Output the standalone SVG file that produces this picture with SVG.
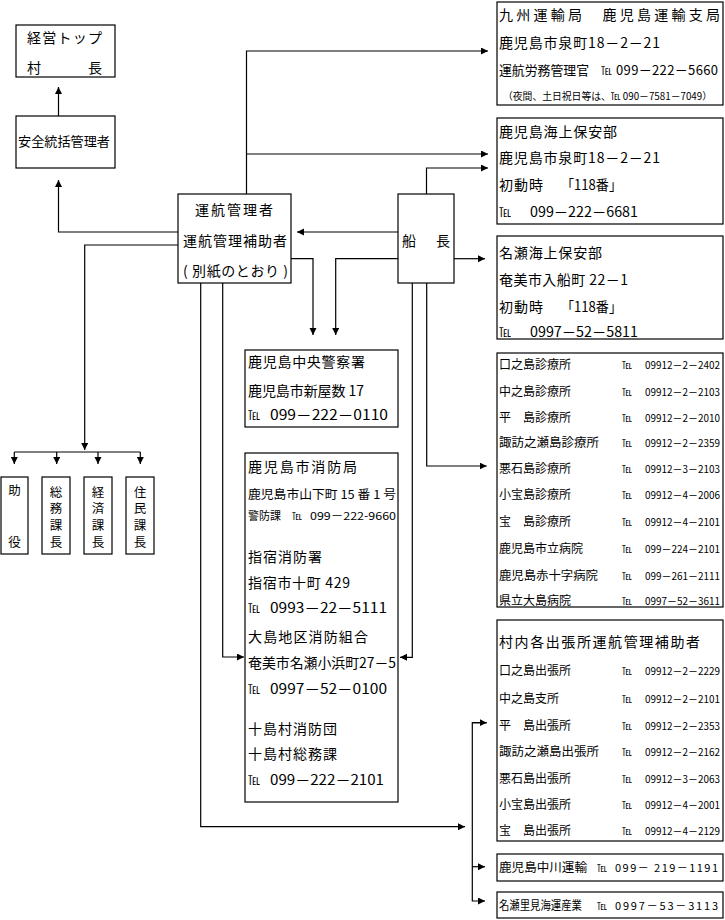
<svg xmlns="http://www.w3.org/2000/svg" width="725" height="920" viewBox="0 0 725 920">
<style>
text{font-family:"Noto Sans CJK JP","Noto Sans",sans-serif;fill:#000}
.s14{font-size:14px}.s13{font-size:13px}.s12{font-size:12px}.s11{font-size:11px}.s10{font-size:10px}
.n{font-size:10.5px}
.box{fill:#fff;stroke:#000;stroke-width:1.2}
.c{fill:none;stroke:#000;stroke-width:1.2}
.m{text-anchor:middle;font-size:12.5px}
</style>
<defs>
<marker id="ah" markerWidth="8" markerHeight="8" refX="7" refY="3.5" orient="auto" markerUnits="userSpaceOnUse"><path d="M0,0 L7,3.5 L0,7 z" fill="#000"/></marker>
</defs>
<rect width="725" height="920" fill="#fff"/>
<g id="connectors">
<path class="c" d="M58.5,116 V87" marker-end="url(#ah)"/>
<path class="c" d="M178,232 H58.5 V180" marker-end="url(#ah)"/>
<path class="c" d="M178,245 H84.7 V450" marker-end="url(#ah)"/>
<path class="c" d="M14.3,452 H140.3"/>
<path class="c" d="M14.3,452 V464" marker-end="url(#ah)"/>
<path class="c" d="M56.7,452 V464" marker-end="url(#ah)"/>
<path class="c" d="M98,452 V464" marker-end="url(#ah)"/>
<path class="c" d="M140.3,452 V464" marker-end="url(#ah)"/>
<path class="c" d="M246.5,194 V51 H488" marker-end="url(#ah)"/>
<path class="c" d="M246.5,154 H488" marker-end="url(#ah)"/>
<path class="c" d="M426.5,194 V168 H488" marker-end="url(#ah)"/>
<path class="c" d="M398,232 H297" marker-end="url(#ah)"/>
<path class="c" d="M454,258.7 H485" marker-end="url(#ah)"/>
<path class="c" d="M291,258.7 H313 V335" marker-end="url(#ah)"/>
<path class="c" d="M398,258.7 H335.7 V335" marker-end="url(#ah)"/>
<path class="c" d="M200.7,283 V826.7 H465" marker-end="url(#ah)"/>
<path class="c" d="M222.7,283 V657 H244" marker-end="url(#ah)"/>
<path class="c" d="M412.3,283 V657.3 H400" marker-end="url(#ah)"/>
<path class="c" d="M426.7,283 V466 H486.7" marker-end="url(#ah)"/>
<path class="c" d="M486.7,722.7 H472.3 V901 H485" marker-end="url(#ah)"/>
<path class="c" d="M472.3,722.7 H486.7" marker-end="url(#ah)"/>
<path class="c" d="M472.3,866.7 H485" marker-end="url(#ah)"/>
</g>
<g id="top">
<rect class="box" x="16" y="25" width="99" height="52"/>
<text class="s14" x="27" y="42.5" textLength="75" lengthAdjust="spacing">経営トップ</text>
<text class="s14" x="27" y="73">村</text><text class="s14" x="88" y="73">長</text>
</g>
<g id="safety">
<rect class="box" x="16" y="116" width="99" height="52"/>
<text class="s13" x="18" y="146" textLength="92" lengthAdjust="spacingAndGlyphs">安全統括管理者</text>
</g>
<g id="manager">
<rect class="box" x="178" y="194" width="113" height="89"/>
<text class="s14" x="195" y="214.5" textLength="78" lengthAdjust="spacing">運航管理者</text>
<text class="s14" x="183" y="246" textLength="104" lengthAdjust="spacing">運航管理補助者</text>
<text class="s14" x="183" y="276" textLength="105" lengthAdjust="spacing">( 別紙のとおり )</text>
</g>
<g id="captain">
<rect class="box" x="398" y="194" width="56" height="89"/>
<text class="s14" x="402" y="246">船</text><text class="s14" x="436" y="246">長</text>
</g>
<g id="staff">
<rect class="box" x="1" y="477" width="27" height="77"/>
<text class="m" x="14.5" y="495">助</text><text class="m" x="14.5" y="546.7">役</text>
<rect class="box" x="42" y="477" width="28" height="77"/>
<text class="m" x="56" y="496.7">総</text><text class="m" x="56" y="513">務</text><text class="m" x="56" y="530">課</text><text class="m" x="56" y="546.7">長</text>
<rect class="box" x="84" y="477" width="28" height="77"/>
<text class="m" x="98" y="496.7">経</text><text class="m" x="98" y="513">済</text><text class="m" x="98" y="530">課</text><text class="m" x="98" y="546.7">長</text>
<rect class="box" x="126" y="477" width="28" height="77"/>
<text class="m" x="140" y="496.7">住</text><text class="m" x="140" y="513">民</text><text class="m" x="140" y="530">課</text><text class="m" x="140" y="546.7">長</text>
</g>
<g id="transport">
<rect class="box" x="497" y="2" width="226" height="103"/>
<text class="s14" x="499" y="20" textLength="221" lengthAdjust="spacing">九州運輸局　鹿児島運輸支局</text>
<text class="s14" x="499" y="48" textLength="161" lengthAdjust="spacing">鹿児島市泉町18－2－21</text>
<text class="s13" x="499" y="75" textLength="90" lengthAdjust="spacingAndGlyphs">運航労務管理官</text>
<text class="s11" x="601" y="75">℡</text>
<text class="s13" x="616" y="75" textLength="102" lengthAdjust="spacing">099－222－5660</text>
<text class="s10" x="503" y="100" textLength="209" lengthAdjust="spacingAndGlyphs">（夜間、土日祝日等は、℡ 090－7581－7049）</text>
</g>
<g id="coastguard-kagoshima">
<rect class="box" x="497" y="118" width="226" height="106"/>
<text class="s14" x="499" y="137" textLength="118" lengthAdjust="spacing">鹿児島海上保安部</text>
<text class="s14" x="499" y="163" textLength="161" lengthAdjust="spacing">鹿児島市泉町18－2－21</text>
<text class="s14" x="499" y="190" textLength="44" lengthAdjust="spacing">初動時</text>
<text class="s14" x="561" y="190" textLength="61" lengthAdjust="spacingAndGlyphs">「118番」</text>
<text class="s12" x="499" y="217">℡</text>
<text class="s14" x="530" y="217" textLength="108" lengthAdjust="spacingAndGlyphs">099－222－6681</text>
</g>
<g id="coastguard-naze">
<rect class="box" x="497" y="236" width="226" height="103"/>
<text class="s14" x="499" y="258" textLength="103" lengthAdjust="spacing">名瀬海上保安部</text>
<text class="s14" x="499" y="285" textLength="129" lengthAdjust="spacing">奄美市入船町 22－1</text>
<text class="s14" x="499" y="312" textLength="44" lengthAdjust="spacing">初動時</text>
<text class="s14" x="561" y="312" textLength="61" lengthAdjust="spacingAndGlyphs">「118番」</text>
<text class="s12" x="499" y="337">℡</text>
<text class="s14" x="530" y="337" textLength="108" lengthAdjust="spacingAndGlyphs">0997－52－5811</text>
</g>
<g id="police">
<rect class="box" x="245" y="350" width="153" height="77"/>
<text class="s14" x="248" y="367" textLength="117" lengthAdjust="spacing">鹿児島中央警察署</text>
<text class="s14" x="248" y="396" textLength="116" lengthAdjust="spacing">鹿児島市新屋数 17</text>
<text class="s12" x="248" y="420">℡</text>
<text class="s14" x="270" y="420" textLength="118" lengthAdjust="spacingAndGlyphs">099－222－0110</text>
</g>
<g id="fire">
<rect class="box" x="245" y="453" width="153" height="349"/>
<text class="s14" x="248" y="472" textLength="109" lengthAdjust="spacing">鹿児島市消防局</text>
<text class="s12" x="248" y="498.5" textLength="148" lengthAdjust="spacingAndGlyphs">鹿児島市山下町 15 番 1 号</text>
<text class="s11" x="248" y="520">警防課</text>
<text class="s10" x="292" y="520">℡</text>
<text class="s11" x="310" y="520" textLength="86" lengthAdjust="spacingAndGlyphs">099－222-9660</text>
<text class="s14" x="248" y="562" textLength="74" lengthAdjust="spacing">指宿消防署</text>
<text class="s14" x="248" y="587.5" textLength="102" lengthAdjust="spacing">指宿市十町 429</text>
<text class="s12" x="248" y="613">℡</text>
<text class="s14" x="270" y="613" textLength="117" lengthAdjust="spacingAndGlyphs">0993－22－5111</text>
<text class="s14" x="248" y="642" textLength="120" lengthAdjust="spacing">大島地区消防組合</text>
<text class="s14" x="248" y="667.5" textLength="148" lengthAdjust="spacingAndGlyphs">奄美市名瀬小浜町27－5</text>
<text class="s12" x="248" y="693.5">℡</text>
<text class="s14" x="270" y="693.5" textLength="117" lengthAdjust="spacingAndGlyphs">0997－52－0100</text>
<text class="s14" x="248" y="733.5" textLength="89" lengthAdjust="spacing">十島村消防団</text>
<text class="s14" x="248" y="758.5" textLength="89" lengthAdjust="spacing">十島村総務課</text>
<text class="s12" x="248" y="785">℡</text>
<text class="s14" x="270" y="785" textLength="114" lengthAdjust="spacingAndGlyphs">099－222－2101</text>
</g>
<g id="clinics">
<rect class="box" x="497" y="353" width="226" height="254"/>
<text class="s12" x="499" y="369">口之島診療所</text><text class="s10" x="622" y="369">℡</text><text class="n" x="645" y="369" textLength="75" lengthAdjust="spacingAndGlyphs">09912－2－2402</text>
<text class="s12" x="499" y="395.5">中之島診療所</text><text class="s10" x="622" y="395.5">℡</text><text class="n" x="645" y="395.5" textLength="75" lengthAdjust="spacingAndGlyphs">09912－2－2103</text>
<text class="s12" x="499" y="422">平　島診療所</text><text class="s10" x="622" y="422">℡</text><text class="n" x="645" y="422" textLength="75" lengthAdjust="spacingAndGlyphs">09912－2－2010</text>
<text class="s12" x="499" y="447" textLength="100" lengthAdjust="spacingAndGlyphs">諏訪之瀬島診療所</text><text class="s10" x="622" y="447">℡</text><text class="n" x="645" y="447" textLength="75" lengthAdjust="spacingAndGlyphs">09912－2－2359</text>
<text class="s12" x="499" y="472.5">悪石島診療所</text><text class="s10" x="622" y="472.5">℡</text><text class="n" x="645" y="472.5" textLength="75" lengthAdjust="spacingAndGlyphs">09912－3－2103</text>
<text class="s12" x="499" y="499">小宝島診療所</text><text class="s10" x="622" y="499">℡</text><text class="n" x="645" y="499" textLength="75" lengthAdjust="spacingAndGlyphs">09912－4－2006</text>
<text class="s12" x="499" y="526">宝　島診療所</text><text class="s10" x="622" y="526">℡</text><text class="n" x="645" y="526" textLength="75" lengthAdjust="spacingAndGlyphs">09912－4－2101</text>
<text class="s12" x="499" y="552.5">鹿児島市立病院</text><text class="s10" x="622" y="552.5">℡</text><text class="n" x="645" y="552.5" textLength="75" lengthAdjust="spacingAndGlyphs">099－224－2101</text>
<text class="s12" x="499" y="579.5" textLength="99" lengthAdjust="spacingAndGlyphs">鹿児島赤十字病院</text><text class="s10" x="622" y="579.5">℡</text><text class="n" x="645" y="579.5" textLength="75" lengthAdjust="spacingAndGlyphs">099－261－2111</text>
<text class="s12" x="499" y="604.5">県立大島病院</text><text class="s10" x="622" y="604.5">℡</text><text class="n" x="645" y="604.5" textLength="75" lengthAdjust="spacingAndGlyphs">0997－52－3611</text>
</g>
<g id="branches">
<rect class="box" x="497" y="620" width="226" height="221"/>
<text class="s14" x="499" y="647" textLength="201" lengthAdjust="spacing">村内各出張所運航管理補助者</text>
<text class="s12" x="499" y="674.5">口之島出張所</text><text class="s10" x="622" y="674.5">℡</text><text class="n" x="645" y="674.5" textLength="75" lengthAdjust="spacingAndGlyphs">09912－2－2229</text>
<text class="s12" x="499" y="702.5">中之島支所</text><text class="s10" x="622" y="702.5">℡</text><text class="n" x="645" y="702.5" textLength="75" lengthAdjust="spacingAndGlyphs">09912－2－2101</text>
<text class="s12" x="499" y="729.5">平　島出張所</text><text class="s10" x="622" y="729.5">℡</text><text class="n" x="645" y="729.5" textLength="75" lengthAdjust="spacingAndGlyphs">09912－2－2353</text>
<text class="s12" x="499" y="756" textLength="100" lengthAdjust="spacingAndGlyphs">諏訪之瀬島出張所</text><text class="s10" x="622" y="756">℡</text><text class="n" x="645" y="756" textLength="75" lengthAdjust="spacingAndGlyphs">09912－2－2162</text>
<text class="s12" x="499" y="782.5">悪石島出張所</text><text class="s10" x="622" y="782.5">℡</text><text class="n" x="645" y="782.5" textLength="75" lengthAdjust="spacingAndGlyphs">09912－3－2063</text>
<text class="s12" x="499" y="808.5">小宝島出張所</text><text class="s10" x="622" y="808.5">℡</text><text class="n" x="645" y="808.5" textLength="75" lengthAdjust="spacingAndGlyphs">09912－4－2001</text>
<text class="s12" x="499" y="834.5">宝　島出張所</text><text class="s10" x="622" y="834.5">℡</text><text class="n" x="645" y="834.5" textLength="75" lengthAdjust="spacingAndGlyphs">09912－4－2129</text>
</g>
<g id="nakagawa">
<rect class="box" x="497" y="854" width="226" height="27"/>
<text class="s12" x="499" y="871.5" textLength="88" lengthAdjust="spacingAndGlyphs">鹿児島中川運輸</text>
<text class="s10" x="597" y="871.5">℡</text>
<text class="s11" x="615" y="871.5" textLength="103" lengthAdjust="spacing">099－ 219－1191</text>
</g>
<g id="satomi">
<rect class="box" x="497" y="892" width="226" height="26"/>
<text class="s12" x="499" y="909.5" textLength="83" lengthAdjust="spacingAndGlyphs">名瀬里見海運産業</text>
<text class="s10" x="597" y="909.5">℡</text>
<text class="s11" x="615" y="909.5" textLength="103" lengthAdjust="spacing">0997－53－3113</text>
</g>
</svg>
